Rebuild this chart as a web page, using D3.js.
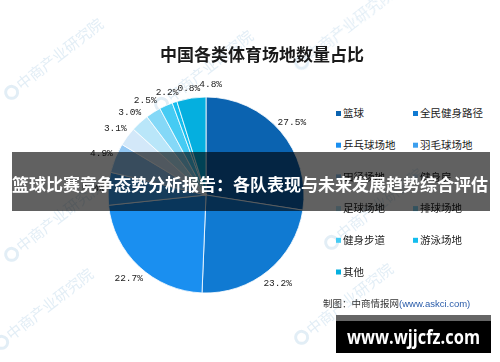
<!DOCTYPE html>
<html>
<head>
<meta charset="utf-8">
<script src="https://cdn.jsdelivr.net/npm/d3@7"></script>
<style>
  html, body { margin: 0; padding: 0; background: #fff; }
  svg { display: block; }
</style>
</head>
<body>
<svg id="chart" width="500" height="362"></svg>
<script>
// data
var categories = ["篮球", "全民健身路径", "乒乓球场地", "羽毛球场地", "田径场地", "健身房",
                  "足球场地", "排球场地", "健身步道", "游泳场地", "其他"];
var shares = [27.5, 23.2, 22.7, 5.4, 4.9, 3.1, 3.0, 2.5, 2.2, 0.8, 4.8];
var colors = ["#0b63b0", "#107ad2", "#1a8ff0", "#3c9fee", "#93c8f4", "#d3e8f9",
              "#b9e6f9", "#84d8f7", "#45cbf3", "#14bdee", "#05afdf"];

var chartTitle = "中国各类体育场地数量占比";
var bannerText = "篮球比赛竞争态势分析报告：各队表现与未来发展趋势综合评估";
var sourceText = "制图：中商情报网";
var sourceUrl = "(www.askci.com)";
var siteText = "www.wjjcfz.com";
var watermark = "中商产业研究院";

var svg = d3.select("#chart");
var W = 500, H = 362;
var cx = 206, cy = 195, radius = 98;

svg.append("rect").attr("width", W).attr("height", H).attr("fill", "#fff");

// faint watermarks
var wm = svg.append("g").attr("fill", "#d9e8f3").attr("opacity", 0.75)
  .style("font-family", "'Noto Sans CJK SC', sans-serif").style("font-size", "15px");
[[10, 100], [160, 112], [300, 70], [10, 262], [175, 285], [330, 250], [0, 350], [300, 345]]
  .forEach(function(p) {
    var g = wm.append("g").attr("transform", "translate(" + p[0] + "," + p[1] + ") rotate(-38)");
    g.append("circle").attr("cx", 6).attr("cy", -5).attr("r", 6).attr("fill", "none")
      .attr("stroke", "#d9e8f3").attr("stroke-width", 3);
    g.append("text").attr("x", 15).attr("y", 0).text(watermark);
  });

// title
svg.append("text")
  .attr("x", 262).attr("y", 61)
  .attr("text-anchor", "middle")
  .attr("fill", "#1a1a1a")
  .style("font-family", "'Noto Sans CJK SC', sans-serif")
  .style("font-size", "17px").style("font-weight", "bold")
  .text(chartTitle);

// pie
var pie = d3.pie().sort(null).value(function(d) { return d; });
var arcs = pie(shares);
var arc = d3.arc().innerRadius(0).outerRadius(radius);
var labelArc = d3.arc().innerRadius(113).outerRadius(113);

var g = svg.append("g").attr("transform", "translate(" + cx + "," + cy + ")");
g.selectAll("path.slice")
  .data(arcs)
  .enter().append("path")
  .attr("class", "slice")
  .attr("d", arc)
  .attr("fill", function(d, i) { return colors[i]; })
  .attr("stroke", "#fff")
  .attr("stroke-width", 0.8);

var labels = g.selectAll("text.lbl")
  .data(arcs)
  .enter().append("text")
  .attr("class", "lbl")
  .attr("dy", "0.35em")
  .attr("text-anchor", "middle")
  .attr("fill", "#222")
  .style("font-family", "'Liberation Mono', 'DejaVu Sans Mono', monospace")
  .style("font-size", "9.5px")
  .text(function(d) { return d.data.toFixed(1) + "%"; });

// place labels outside, nudging a label clockwise when it runs into the previous one
var boxes = [];
labels.each(function(d, i) {
  var c = labelArc.centroid(d);
  var w = this.getComputedTextLength(), h = 9;
  var x = c[0], y = c[1];
  var prev = boxes[i - 1];
  if (prev && Math.abs(prev.y - y) < h && Math.abs(prev.x - x) < (prev.w + w) / 2) {
    x = prev.x + (prev.w + w) / 2 - 1;
  }
  boxes.push({x: x, y: y, w: w});
  d3.select(this).attr("x", x).attr("y", y);
});

// legend
var legend = svg.append("g");
var item = legend.selectAll("g")
  .data(categories)
  .enter().append("g")
  .attr("transform", function(d, i) {
    return "translate(" + (336 + (i % 2) * 77) + "," + (113.5 + Math.floor(i / 2) * 31.7) + ")";
  });
item.append("rect")
  .attr("x", 0).attr("y", -2.5).attr("width", 5).attr("height", 5)
  .attr("fill", function(d, i) { return colors[i]; });
item.append("text")
  .attr("x", 7).attr("dy", "0.36em")
  .attr("fill", "#222")
  .style("font-family", "'Noto Sans CJK SC', sans-serif")
  .style("font-size", "10.5px")
  .text(function(d) { return d; });

// source line
var src = svg.append("text")
  .attr("x", 323).attr("y", 307)
  .style("font-family", "'Noto Sans CJK SC', sans-serif")
  .style("font-size", "9.5px");
src.append("tspan").attr("fill", "#333").text(sourceText);
src.append("tspan").attr("fill", "#2a5caa").style("font-family", "'Liberation Sans', sans-serif").text(sourceUrl);

// overlay banner
svg.append("rect")
  .attr("x", 12).attr("y", 152).attr("width", 478).attr("height", 59)
  .attr("fill", "#000").attr("opacity", 0.62);
svg.append("text")
  .attr("x", 250).attr("y", 191)
  .attr("text-anchor", "middle")
  .attr("fill", "#fff")
  .style("font-family", "'Noto Sans CJK SC', sans-serif")
  .style("font-size", "17px").style("font-weight", "bold")
  .text(bannerText);

// site badge
svg.append("rect").attr("x", 336).attr("y", 315).attr("width", 155).attr("height", 7).attr("fill", "#666");
svg.append("rect").attr("x", 336).attr("y", 321).attr("width", 155).attr("height", 32).attr("fill", "#000");
svg.append("text")
  .attr("x", 347).attr("y", 344)
  .attr("fill", "#fff")
  .attr("textLength", 133).attr("lengthAdjust", "spacingAndGlyphs")
  .style("font-family", "'Open Sans', 'DejaVu Sans', sans-serif")
  .style("font-size", "19px").style("font-weight", "bold")
  .text(siteText);
</script>
</body>
</html>
